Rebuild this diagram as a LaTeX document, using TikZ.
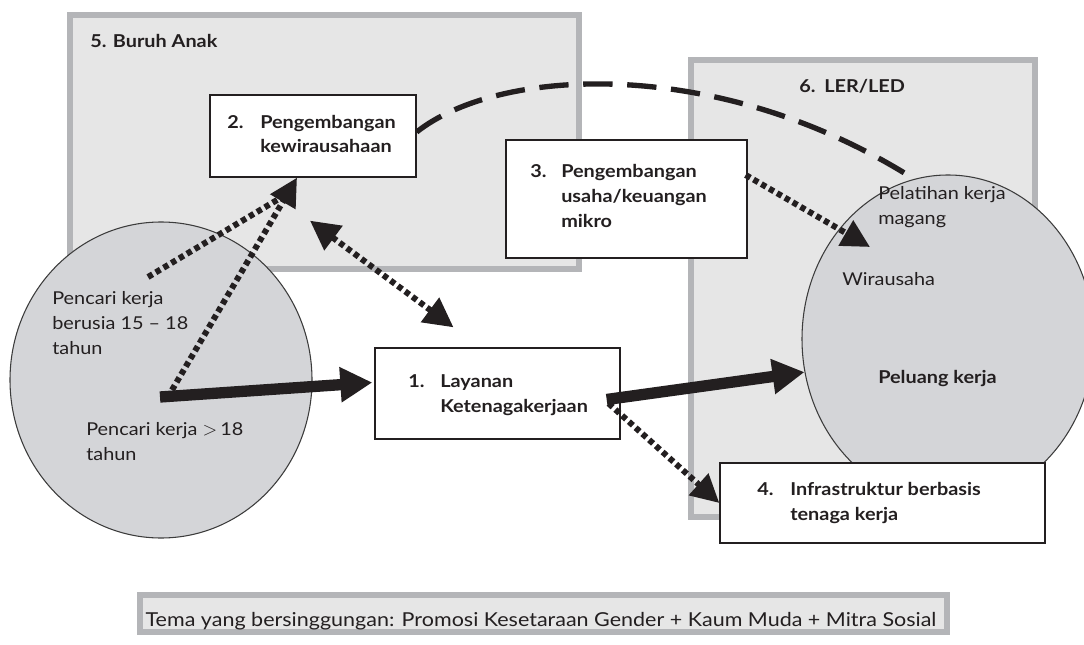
\documentclass[tikz,border=0pt]{standalone}
\usepackage{fontspec}
\setmainfont{Lato}[FakeStretch=1.12]
\usetikzlibrary{arrows.meta,shapes.geometric,calc}
\definecolor{panelfill}{RGB}{230,230,230}
\definecolor{panelline}{RGB}{180,181,184}
\definecolor{circfill}{RGB}{212,213,216}
\definecolor{circline}{RGB}{60,60,60}
\definecolor{ink}{RGB}{35,31,32}
\tikzset{
  panel/.style={draw=panelline, line width=4.5pt, fill=panelfill},
  blob/.style={ellipse, draw=circline, line width=0.8pt, fill=circfill, inner sep=0pt},
  box/.style={rectangle, draw=ink, line width=1pt, fill=white, inner sep=0pt},
  lbl/.style={inner sep=0pt, anchor=base west, text=ink, font=\fontsize{13.3}{16}\selectfont},
  blbl/.style={lbl, font=\fontsize{13.3}{16}\selectfont\bfseries},
  bigarrow/.style={draw=ink, line width=8.5pt, -{Triangle[length=24pt,width=25pt]}},
  dotline/.style={draw=ink, line width=4.5pt, dash pattern=on 4pt off 2.8pt},
  dotarrow/.style={dotline, -{Triangle[length=21pt,width=21pt]}},
  dotboth/.style={dotline, {Triangle[length=22pt,width=22pt]}-{Triangle[length=22pt,width=22pt]}},
  dashcurve/.style={draw=ink, line width=4pt, dash pattern=on 22pt off 11pt},
}
\begin{document}
\begin{tikzpicture}[x=0.75pt,y=-0.75pt]
\useasboundingbox (0,0) rectangle (1084,645);
\clip (0,0) rectangle (1084,645);
% panels
\draw[panel] (70,15) rectangle (579,269);
\draw[panel] (691,60) rectangle (1035,517);
\draw[panel] (140,595) rectangle (947,632);
% circles
\node[blob, minimum width=226.5pt, minimum height=237pt] (lc) at (161,380) {};
\node[blob, minimum width=219pt, minimum height=246pt] (rc) at (948,339) {};
% boxes
\node[box, minimum width=154.5pt, minimum height=61.5pt] (b2) at (313,136) {};
\node[box, minimum width=180.75pt, minimum height=88.5pt] (b3) at (626.5,199) {};
\node[box, minimum width=183.75pt, minimum height=68.25pt] (b1) at (497.5,393.5) {};
\node[box, minimum width=243.75pt, minimum height=60pt] (b4) at (882.5,503) {};
% texts
\node[blbl] (t5) at (90,48) {5. Buruh Anak};
\node[blbl] (t6) at (799,93) {6.\hspace{0.5em}LER/LED};
\node[blbl] (t2n) at (227,129) {2.};
\node[blbl] (t2a) at (260,129) {Pengembangan};
\node[blbl] (t2b) at (260,153) {kewirausahaan};
\node[blbl] (t3n) at (530,178) {3.};
\node[blbl] (t3a) at (561,178) {Pengembangan};
\node[blbl] (t3b) at (561,203) {usaha/keuangan};
\node[blbl] (t3c) at (561,228) {mikro};
\node[blbl] (t1n) at (408,387) {1.};
\node[blbl] (t1a) at (440,387) {Layanan};
\node[blbl] (t1b) at (440,412) {Ketenagakerjaan};
\node[blbl] (t4n) at (757,495) {4.};
\node[blbl] (t4a) at (790,495) {Infrastruktur berbasis};
\node[blbl] (t4b) at (790,520) {tenaga kerja};
\node[lbl] (ta1) at (52,304) {Pencari kerja};
\node[lbl] (ta2) at (52,329) {berusia 15 -- 18};
\node[lbl] (ta3) at (52,354) {tahun};
\node[lbl] (tb1) at (86,435) {Pencari kerja ${>}\,$18};
\node[lbl] (tb2) at (86,460) {tahun};
\node[lbl] (tc1) at (878,200) {Pelatihan kerja};
\node[lbl] (tc2) at (878,225) {magang};
\node[lbl] (tc3) at (842,285) {Wirausaha};
\node[blbl] (tc4) at (878,383) {Peluang kerja};
\node[lbl, anchor=base, font=\fontsize{14.4}{16}\selectfont] (tbar) at (541,626) {Tema yang bersinggungan: Promosi Kesetaraan Gender + Kaum Muda + Mitra Sosial};
% connectors
\draw[dashcurve] ($(b2.east)+(0,-4)$) .. controls (500,66) and (720,56) .. (rc.102);
\draw[dotline] (148,277) -- ($(b2.south)+(-22,14)$);
\draw[dotarrow] ($(lc.center)+(11,10)$) -- ($(b2.south)+(-16,0)$);
\draw[dotboth] ($(b2.south)+(-3,43)$) -- ($(b1.north)+(-44,-20)$);
\draw[dotarrow] ($(b3.east)+(-2,-24)$) -- ($(rc.center)+(-78,-92)$);
\draw[dotarrow] ($(b1.east)+(-12,10)$) -- (b4.west);
\draw[bigarrow] ($(lc.center)+(-1,17)$) -- ($(b1.west)+(-2,-11)$);
\draw[bigarrow] ($(b1.east)+(-14,6)$) -- (rc.193);
\end{tikzpicture}
\end{document}
